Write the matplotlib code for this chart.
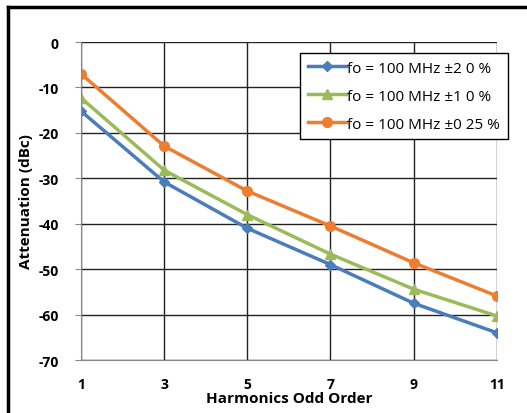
import matplotlib.pyplot as plt

# harmonic order and attenuation (dBc)
orders = [1, 3, 5, 7, 9, 11]
atten_20 = [-15.2, -30.8, -41.0, -49.0, -57.5, -64.0]
atten_10 = [-12.3, -28.2, -38.0, -46.7, -54.4, -60.3]
atten_025 = [-7.0, -22.9, -32.8, -40.5, -48.6, -55.9]
labels = ['fo = 100 MHz ±2 0 %', 'fo = 100 MHz ±1 0 %', 'fo = 100 MHz ±0 25 %']

plt.rcParams['font.family'] = ['Open Sans', 'DejaVu Sans']
plt.rcParams['axes.unicode_minus'] = False

fig = plt.figure(figsize=(5.27, 4.14), dpi=100)

# outer black frame of the panel: only left and top edges are in view
fx, fy = 8 / 527, 1 - 8 / 414
bg = fig.add_axes([fx, -0.1, 1.2, fy + 0.1])
bg.set_xticks([])
bg.set_yticks([])
bg.patch.set_alpha(0)
for s in ['right', 'bottom']:
    bg.spines[s].set_visible(False)
for s in ['left', 'top']:
    bg.spines[s].set_linewidth(2.5)

ax = fig.add_axes([0.1537, 0.128, 0.789, 0.768])

ax.plot(orders, atten_20, color='#4A7EBB', marker='D', markersize=5, linewidth=2.5, label=labels[0])
ax.plot(orders, atten_10, color='#9BBB59', marker='^', markersize=7, linewidth=2.5, label=labels[1])
ax.plot(orders, atten_025, color='#ED7D31', marker='o', markersize=7, linewidth=2.5, label=labels[2])

ax.set_xlim(1, 11)
ax.set_ylim(-70, 0)
ax.set_xticks(orders)
ax.set_yticks(range(-70, 1, 10))
ax.grid(True, color='#222222', linewidth=1.0)
ax.set_axisbelow(True)
for s in ['top', 'right']:
    ax.spines[s].set_visible(False)
for s in ['left', 'bottom']:
    ax.spines[s].set_color('#888888')
ax.tick_params(axis='y', length=4, color='#888888', labelsize=10, pad=12)
ax.tick_params(axis='x', length=0, pad=12, labelsize=10)
for t in ax.get_xticklabels() + ax.get_yticklabels():
    t.set_fontweight('bold')

ax.set_xlabel('Harmonics Odd Order', fontsize=11, fontweight='bold', labelpad=0)
ax.set_ylabel('Attenuation (dBc)', fontsize=11, fontweight='bold', labelpad=4)

leg = ax.legend(loc='upper left', bbox_to_anchor=(300 / 527, 1 - 54 / 414),
                bbox_transform=fig.transFigure, fontsize=11, frameon=True,
                fancybox=False, edgecolor='black', framealpha=1,
                handlelength=2.5, handletextpad=0.1, borderpad=0.5,
                labelspacing=0.85, borderaxespad=0)
leg.get_frame().set_linewidth(1.0)

fig.savefig('out.png', dpi=100)
